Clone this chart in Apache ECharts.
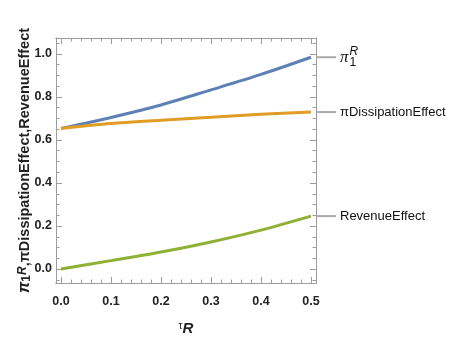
<!DOCTYPE html>
<html><head><meta charset="utf-8">
<script src="https://cdn.jsdelivr.net/npm/echarts@6/dist/echarts.min.js"></script>
<style>html,body{margin:0;padding:0;background:#fff}#c{width:449px;height:351px}</style>
</head><body><div id="c"></div>
<script>
var tau = [0, 0.1, 0.2, 0.3, 0.4, 0.5];
var pi1R = [0.654, 0.705, 0.763, 0.833, 0.905, 0.985];
var piDiss = [0.654, 0.677, 0.692, 0.706, 0.720, 0.730];
var revenue = [0.0, 0.039, 0.079, 0.126, 0.181, 0.246];

var xMajor = [0, 0.1, 0.2, 0.3, 0.4, 0.5];
var xMinor = [0.02,0.04,0.06,0.08,0.12,0.14,0.16,0.18,0.22,0.24,0.26,0.28,0.32,0.34,0.36,0.38,0.42,0.44,0.46,0.48];
var yMajor = [0, 0.2, 0.4, 0.6, 0.8, 1.0];
var yMinor = [-0.05,0.05,0.1,0.15,0.25,0.3,0.35,0.45,0.5,0.55,0.65,0.7,0.75,0.85,0.9,0.95,1.05];

var FR = '#9c9c9c';
var SANS = "'Liberation Sans',Arial,sans-serif";
var XMIN = -0.01, XMAX = 0.51, YMIN = -0.0651, YMAX = 1.0744;

function tickLabel(vals, margin) {
  return {show: true, customValues: vals, formatter: function(v){return v.toFixed(1);}, margin: margin,
    fontFamily: SANS, fontWeight: 'bold', fontSize: 12.5, color: '#222'};
}
function xAx(pos, vals, len, labels, extra) {
  var a = {
    type: 'value', gridIndex: 0, position: pos, min: XMIN, max: XMAX,
    axisLine: {show: true, onZero: false, lineStyle: {color: FR, width: 1}},
    axisTick: {show: true, inside: true, length: len, customValues: vals, lineStyle: {color: FR}},
    axisLabel: labels ? tickLabel(vals, 12) : {show: false},
    splitLine: {show: false}
  };
  return Object.assign(a, extra || {});
}
function yAx(pos, vals, len, labels, extra) {
  var a = {
    type: 'value', gridIndex: 0, position: pos, min: YMIN, max: YMAX,
    axisLine: {show: true, onZero: false, lineStyle: {color: FR, width: 1}},
    axisTick: {show: true, inside: true, length: len, customValues: vals, lineStyle: {color: FR}},
    axisLabel: labels ? tickLabel(vals, 4) : {show: false},
    splitLine: {show: false}
  };
  return Object.assign(a, extra || {});
}

var leader = {width: 20, height: 2, backgroundColor: '#aaaaaa', verticalAlign: 'middle'};
function endLab(text) {
  return {
    show: true, distance: 5,
    formatter: '{ln|}{t|' + text + '}',
    rich: {
      ln: leader,
      t: {fontFamily: SANS, fontSize: 13, color: '#111', padding: [0, 0, 0, 4], verticalAlign: 'middle'}
    }
  };
}

var chart = echarts.init(document.getElementById('c'), null, {renderer: 'canvas'});
chart.setOption({
  animation: false,
  backgroundColor: '#fff',
  grid: {left: 56, top: 38, width: 260, height: 245, containLabel: false},
  xAxis: [
    xAx('bottom', xMajor, 6, true, {
      name: '{t|τ}{r|R}', nameLocation: 'middle', nameGap: 38, nameMoveOverlap: false,
      nameTextStyle: {rich: {
        t: {fontSize: 10, fontFamily: SANS, color: '#222', verticalAlign: 'top'},
        r: {fontSize: 15, fontFamily: SANS, fontStyle: 'italic', fontWeight: 'bold', color: '#222'}
      }}
    }),
    xAx('bottom', xMinor, 3.5, false),
    xAx('top', xMajor, 6, false),
    xAx('top', xMinor, 3.5, false)
  ],
  yAxis: [
    yAx('left', yMajor, 6, true, {
      name: '{p|π}{s|1}{r|R}{t|,πDissipationEffect,RevenueEffect}',
      nameLocation: 'middle', nameGap: 23, nameRotate: 90, nameMoveOverlap: false,
      nameTextStyle: {rich: {
        p: {fontSize: 16, fontFamily: SANS, fontStyle: 'italic', fontWeight: 'bold', color: '#222'},
        s: {fontSize: 12, fontFamily: SANS, fontWeight: 'bold', color: '#222', verticalAlign: 'bottom'},
        r: {fontSize: 12, fontFamily: SANS, fontStyle: 'italic', fontWeight: 'bold', color: '#222', verticalAlign: 'top'},
        t: {fontSize: 14.5, fontFamily: SANS, fontWeight: 'bold', color: '#222'}
      }}
    }),
    yAx('left', yMinor, 3.5, false),
    yAx('right', yMajor, 6, false),
    yAx('right', yMinor, 3.5, false)
  ],
  series: [
    {
      type: 'line', name: 'pi1R', xAxisIndex: 0, yAxisIndex: 0,
      data: tau.map(function(t, i){return [t, pi1R[i]];}),
      smooth: 0.3, showSymbol: false, symbol: 'none',
      lineStyle: {color: '#5E81B5', width: 3}, itemStyle: {color: '#5E81B5'},
      endLabel: {
        show: true, distance: 5, formatter: '{ln|}{p|π}',
        rich: {ln: leader, p: {fontFamily: 'Liberation Serif', fontStyle: 'italic', fontSize: 17, color: '#111', padding: [0,0,0,4], verticalAlign: 'middle'}}
      },
      markPoint: {
        symbol: 'circle', symbolSize: 1, itemStyle: {color: 'rgba(0,0,0,0)'},
        data: [{coord: [tau[tau.length-1], pi1R[pi1R.length-1]]}],
        label: {
          show: true, position: 'right', distance: 38,
          formatter: '{r|R}\n{o|1}',
          rich: {
            r: {fontFamily: SANS, fontStyle: 'italic', fontSize: 12, color: '#111', lineHeight: 10},
            o: {fontFamily: SANS, fontSize: 12, color: '#111', lineHeight: 11}
          }
        }
      }
    },
    {
      type: 'line', name: 'piDiss', xAxisIndex: 0, yAxisIndex: 0,
      data: tau.map(function(t, i){return [t, piDiss[i]];}),
      smooth: 0.3, showSymbol: false, symbol: 'none',
      lineStyle: {color: '#E19C24', width: 3}, itemStyle: {color: '#E19C24'},
      endLabel: endLab('πDissipationEffect')
    },
    {
      type: 'line', name: 'revenue', xAxisIndex: 0, yAxisIndex: 0,
      data: tau.map(function(t, i){return [t, revenue[i]];}),
      smooth: 0.3, showSymbol: false, symbol: 'none',
      lineStyle: {color: '#8FB032', width: 3}, itemStyle: {color: '#8FB032'},
      endLabel: endLab('RevenueEffect')
    }
  ]
});
</script></body></html>
